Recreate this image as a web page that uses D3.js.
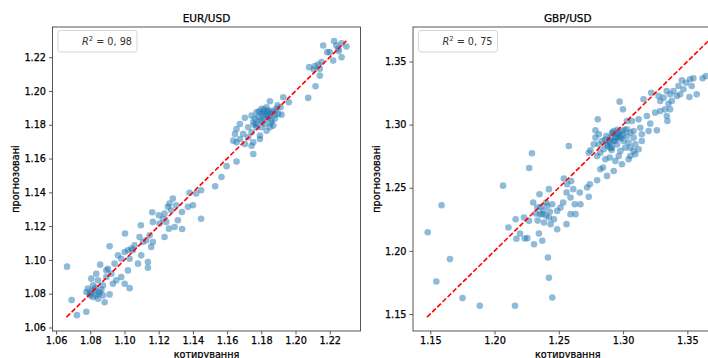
<!DOCTYPE html>
<html><head><meta charset="utf-8">
<script src="https://cdn.jsdelivr.net/npm/d3@7"></script>
<style>
html,body{margin:0;padding:0;background:#fff;overflow:hidden;}
svg{display:block;font-family:"DejaVu Sans",sans-serif;}
svg text{stroke:currentColor;stroke-width:0.25px;}
</style></head>
<body><svg id="chart" width="708" height="358"></svg>
<script>
// ---------- DATA ----------
const eurActual = [1.2162,1.2226,1.2269,1.2185,1.2200,1.2249,1.2298,1.2253,1.2269,1.2220,1.2239,1.2080,1.2113,1.2132,1.2107,1.2142,1.2152,1.2142,1.2117,1.2074,
1.1850,1.1928,1.1961,1.1912,1.1801,1.1831,1.1772,1.1870,1.1918,1.1743,1.1704,1.1811,1.1840,1.1879,1.1792,1.1753,1.1675,1.1821,1.1870,1.1772,
1.1723,1.1655,1.1831,1.1743,1.1694,1.1646,1.1792,1.1723,1.1675,1.1636,1.1792,1.1753,1.1704,1.1743,1.1655,1.1753,1.1655,1.1597,1.1850,1.1899,
1.1811,1.1782,1.1801,1.1831,1.1850,1.1821,1.1860,1.1762,1.1840,1.1889,1.1772,1.1801,
1.1786,1.1816,1.1845,1.1865,1.1805,1.1835,1.1880,1.1760,1.1855,1.1895,
1.1567,1.1530,1.1448,1.1419,1.1380,1.1400,1.1371,1.1336,1.1283,1.1263,1.1254,1.1302,1.1234,1.1273,1.1225,1.1244,1.1312,1.1293,1.1337,1.1448,
1.1260,1.1201,1.1162,1.1166,1.1205,1.1234,1.1096,1.1147,1.1127,1.1166,1.1156,1.1108,1.1088,1.1059,1.1040,1.1020,1.1049,1.1001,1.1030,1.1098,
1.1079,1.1137,1.1137,1.1003,1.0962,1.0981,1.1020,1.0913,1.0942,1.0903,1.0923,1.0894,1.0981,1.1001,1.0932,1.1030,1.0858,1.0835,1.0806,1.0845,
1.0874,1.0816,1.0786,1.0825,1.0855,1.0796,1.0835,1.0874,1.0913,1.0816,1.0777,1.0884,1.0845,1.0664,1.0691,1.0722,1.0777,1.0894,1.0952,
1.0810,1.0830,1.0850,1.0800,1.0865];
const eurPredicted = [1.2269,1.2295,1.2283,1.2230,1.2230,1.2250,1.2263,1.2236,1.2200,1.2180,1.2269,1.2141,1.2147,1.2157,1.2127,1.2131,1.2171,1.2091,1.2028,1.1959,
1.1939,1.1963,1.1933,1.1904,1.1894,1.1904,1.1874,1.1884,1.1860,1.1854,1.1841,1.1854,1.1844,1.1835,1.1825,1.1815,1.1805,1.1805,1.1795,1.1785,
1.1785,1.1775,1.1765,1.1756,1.1746,1.1746,1.1736,1.1726,1.1716,1.1706,1.1716,1.1696,1.1686,1.1676,1.1696,1.1627,1.1582,1.1555,1.1785,1.1864,
1.1874,1.1844,1.1864,1.1860,1.1868,1.1835,1.1825,1.1835,1.1884,1.1894,1.1805,1.1785,
1.1880,1.1890,1.1850,1.1872,1.1820,1.1880,1.1860,1.1800,1.1810,1.1915,
1.1491,1.1436,1.1412,1.1393,1.1397,1.1324,1.1314,1.1284,1.1363,1.1333,1.1314,1.1324,1.1274,1.1294,1.1244,1.1225,1.1235,1.1195,1.1183,1.1244,
1.1185,1.1264,1.1282,1.1225,1.1215,1.1136,1.1205,1.1146,1.1116,1.1106,1.1077,1.1106,1.1136,1.1087,1.1067,1.1057,1.1057,1.1047,1.1007,1.1027,
1.0978,1.0988,1.0954,1.1156,1.1027,1.1007,1.0938,1.1081,1.0978,1.0948,1.0918,1.0899,1.0899,1.0859,1.0859,1.0833,1.0972,1.0918,1.0889,1.0879,
1.0849,1.0849,1.0830,1.0820,1.0810,1.0800,1.0790,1.0790,1.0796,1.0780,1.0810,1.0749,1.0770,1.0960,1.0762,1.0673,1.0693,1.0938,1.0879,
1.0815,1.0835,1.0800,1.0790,1.0825];

const gbpActual = [1.1480,1.1588,1.1547,1.1653,1.1751,1.1885,1.2066,1.2108,1.2159,1.2270,1.2291,1.2415,1.2423,1.2449,1.2578,
1.2170,1.2198,1.2234,1.2255,1.2164,1.2229,1.2268,1.2301,1.2332,1.2350,1.2423,1.2320,1.2371,1.2410,1.2449,1.2384,1.2423,1.2462,1.2487,1.2513,
1.2534,1.2560,1.2539,1.2596,1.2565,1.2612,1.2591,1.2624,1.2668,1.2663,1.2560,1.2591,1.2630,1.2487,1.2345,1.2371,1.2307,1.2436,1.2402,1.2353,
1.2380,1.2400,1.2360,1.2430,1.2335,
1.2720,1.2741,1.2733,1.2798,1.2823,1.2844,1.2875,1.2927,
1.2733,1.2746,1.2798,1.2811,1.2785,1.2803,1.2836,1.2870,1.2888,1.2901,1.2927,1.2896,1.2940,1.2966,1.2979,1.2953,1.2914,1.2966,1.2991,1.3030,
1.3056,1.3004,1.3043,1.3082,1.3017,1.3056,1.3095,1.3043,1.3095,1.2991,1.2973,1.2999,1.3069,1.3121,1.3134,1.3146,1.3198,1.3146,1.3211,1.3263,
1.3185,1.3159,1.3219,1.3276,1.3289,1.3315,1.3340,1.3366,1.3392,1.3418,1.3444,1.3353,1.3379,1.3289,1.3327,1.3366,1.3340,1.3345,1.3250,1.3457,
1.3521,1.3490,1.3534,1.3573,1.3619,1.3645,1.3547,1.3470,1.3516,1.3431,
1.2927,1.2953,1.2979,1.2940,1.2901,1.2875,1.2914,1.3030,1.3030,1.3082,1.3082,1.3121,1.3056,1.2849,1.2823,1.2862,1.2785,1.2811,1.2772,
1.2920,1.2950,1.2985,1.2935,1.2900,1.2965,1.3000,1.2880,1.2910,1.3010,1.2860,1.2955];
const gbpPredicted = [1.2148,1.2362,1.1758,1.1935,1.1626,1.1565,1.2517,1.2185,1.1565,1.2657,1.2773,1.1948,1.1787,1.1631,1.2831,
1.2096,1.2138,1.2098,1.2101,1.2251,1.2264,1.2238,1.2383,1.2343,1.2449,1.2489,1.2296,1.2291,1.2357,1.2370,1.2225,1.2264,1.2251,1.2317,1.2343,
1.2383,1.2462,1.2573,1.2554,1.2528,1.2489,1.2423,1.2370,1.2370,1.2462,1.2212,1.2291,1.2291,1.2172,1.2138,1.2080,1.2053,1.2212,1.2383,1.2291,
1.2320,1.2280,1.2350,1.2310,1.2240,
1.2502,1.2528,1.2428,1.2560,1.2647,1.2660,1.2594,1.2633,
1.2778,1.2797,1.2752,1.2844,1.2955,1.3042,1.2871,1.2910,1.2871,1.2818,1.2871,1.2739,1.2713,1.2752,1.2792,1.2844,1.2937,1.2897,1.2950,1.2963,
1.2937,1.2871,1.2858,1.2897,1.2818,1.2818,1.2844,1.2726,1.2765,1.2686,1.3182,1.3121,1.3029,1.3042,1.2976,1.2924,1.2950,1.2871,1.3008,1.2955,
1.3069,1.3201,1.3253,1.3227,1.3187,1.3214,1.3266,1.3240,1.3266,1.3227,1.3240,1.3166,1.3187,1.3108,1.3121,1.3121,1.3069,1.3029,1.3095,1.3351,
1.3359,1.3332,1.3306,1.3240,1.3367,1.3385,1.3367,1.3280,1.3219,1.3306,
1.2950,1.2924,1.2910,1.2897,1.2897,1.2844,1.2818,1.2910,1.3029,1.2950,1.2792,1.2805,1.2752,1.2805,1.2778,1.2726,1.2897,1.2924,1.2844,
1.2930,1.2905,1.2890,1.2870,1.2860,1.2935,1.2920,1.2830,1.2800,1.2960,1.2880,1.2960];

const eurDiagonal = [1.0661, 1.2297];
const gbpDiagonal = [1.1475, 1.3664];
const eurTicks = [1.06,1.08,1.10,1.12,1.14,1.16,1.18,1.20,1.22];
const gbpTicks = [1.15,1.20,1.25,1.30,1.35];
const panelTitles = ["EUR/USD", "GBP/USD"];
const r2Values = ["0, 98", "0, 75"];
const xLabel = "котирування";
const yLabel = "прогнозовані";

// ---------- DRAW ----------
const svg = d3.select("#chart");
const FONT = 9.7;

const panels = [
  {title: panelTitles[0], xs: eurActual, ys: eurPredicted, diag: eurDiagonal, ticks: eurTicks, r2: r2Values[0],
   left: 52.5, right: 360.5, top: 27, bottom: 331, ylabX: 19},
  {title: panelTitles[1], xs: gbpActual, ys: gbpPredicted, diag: gbpDiagonal, ticks: gbpTicks, r2: r2Values[1],
   left: 413, right: 722.5, top: 27, bottom: 331, ylabX: 380}
];

panels.forEach(p => {
  const xe = d3.extent(p.xs.concat(p.diag));
  const ye = d3.extent(p.ys.concat(p.diag));
  const xm = (xe[1]-xe[0])*0.05, ym = (ye[1]-ye[0])*0.05;
  const x = d3.scaleLinear().domain([xe[0]-xm, xe[1]+xm]).range([p.left, p.right]);
  const y = d3.scaleLinear().domain([ye[0]-ym, ye[1]+ym]).range([p.bottom, p.top]);

  const g = svg.append("g");

  // points
  g.append("g").selectAll("circle").data(p.xs.map((v,i)=>[v,p.ys[i]])).join("circle")
    .attr("cx", d=>x(d[0])).attr("cy", d=>y(d[1])).attr("r", 3.3)
    .attr("fill", "#1f77b4").attr("fill-opacity", 0.5);

  // diagonal
  g.append("line")
    .attr("x1", x(p.diag[0])).attr("y1", y(p.diag[0]))
    .attr("x2", x(p.diag[1])).attr("y2", y(p.diag[1]))
    .attr("stroke", "#ff0000").attr("stroke-width", 1.6)
    .attr("stroke-dasharray", "5,2.2");

  // axes
  const fmt = d3.format(".2f");
  const xa = g.append("g").attr("transform", `translate(0,${p.bottom})`)
    .call(d3.axisBottom(x).tickValues(p.ticks).tickFormat(fmt).tickSize(3.5).tickPadding(3));
  const ya = g.append("g").attr("transform", `translate(${p.left},0)`)
    .call(d3.axisLeft(y).tickValues(p.ticks).tickFormat(fmt).tickSize(3.5).tickPadding(3));
  [xa, ya].forEach(a => {
    a.select(".domain").remove();
    a.selectAll("line").attr("stroke", "#333").attr("stroke-width", 0.8);
    a.selectAll("text").attr("font-size", FONT).attr("font-family", "DejaVu Sans").attr("fill", "#000").style("color", "#000");
  });

  // spines
  g.append("rect").attr("x", p.left).attr("y", p.top)
    .attr("width", p.right - p.left).attr("height", p.bottom - p.top)
    .attr("fill", "none").attr("stroke", "#444").attr("stroke-width", 0.9);

  // title
  g.append("text").attr("x", (p.left + p.right)/2).attr("y", 21.5)
    .attr("text-anchor", "middle").attr("font-size", 10.5).attr("fill", "#000").style("color", "#000").text(p.title);

  // axis labels
  g.append("text").attr("x", (p.left + p.right)/2).attr("y", 357.5)
    .attr("text-anchor", "middle").attr("font-size", FONT).attr("fill", "#000").style("color", "#000").text(xLabel);
  g.append("text").attr("transform", `translate(${p.ylabX},${(p.top+p.bottom)/2}) rotate(-90)`)
    .attr("text-anchor", "middle").attr("font-size", FONT).attr("fill", "#000").style("color", "#000").text(yLabel);

  // legend
  const lx = p.left + 5.5;
  g.append("rect").attr("x", lx).attr("y", 30.5).attr("width", 79).attr("height", 21.5)
    .attr("rx", 2.5).attr("fill", "#fff").attr("fill-opacity", 0.8)
    .attr("stroke", "#d0d0d0").attr("stroke-width", 0.9);
  const t = g.append("text").attr("x", lx + 74).attr("y", 45.3)
    .attr("text-anchor", "end").attr("font-size", FONT).attr("fill", "#333").style("color", "#333")
    .style("stroke-width", "0px");
  t.append("tspan").attr("font-style", "italic").text("R");
  t.append("tspan").attr("font-size", 6.8).attr("dy", -4).text("2");
  t.append("tspan").attr("dy", 4).text(" = " + p.r2);
});
</script></body></html>
